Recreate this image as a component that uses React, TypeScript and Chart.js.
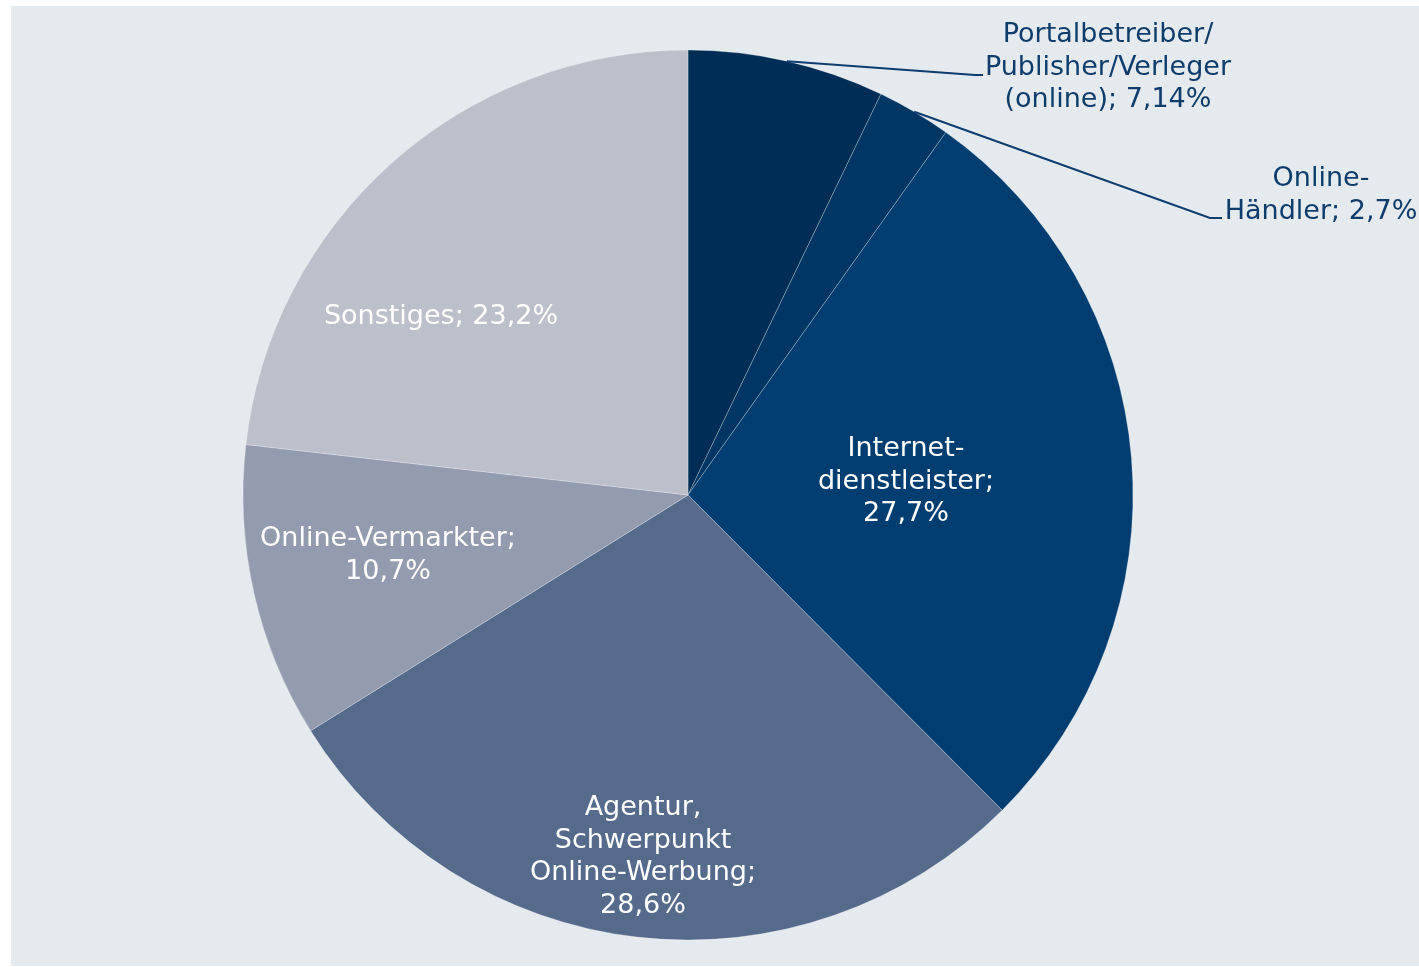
import React, { useEffect, useRef } from "react";
import { Chart, registerables } from "chart.js";

Chart.register(...registerables);

const categories = [
  "Portalbetreiber/Publisher/Verleger (online)",
  "Online-Händler",
  "Internet-dienstleister",
  "Agentur, Schwerpunkt Online-Werbung",
  "Online-Vermarkter",
  "Sonstiges",
];
const values = [7.14, 2.7, 27.7, 28.6, 10.7, 23.2];
const colors = ["#002d56", "#003663", "#003d71", "#566a8c", "#939cae", "#bcc0cb"];
// label line templates ({v} = formatted value)
const labelLines = [
  ["Portalbetreiber/", "Publisher/Verleger", "(online); {v}"],
  ["Online-", "Händler; {v}"],
  ["Internet-", "dienstleister;", "{v}"],
  ["Agentur,", "Schwerpunkt", "Online-Werbung;", "{v}"],
  ["Online-Vermarkter;", "{v}"],
  ["Sonstiges; {v}"],
];

const fmt = (v: number) => String(v).replace(".", ",") + "%";

// label anchor offsets relative to pie centre (first line), outside flag, leader elbow
const labelLayout = [
  { dx: 420, dy: -460, outside: true, elbow: [287, -420], end: [295, -420] },
  { dx: 633, dy: -316, outside: true, elbow: [522, -277], end: [534, -277] },
  { dx: 218, dy: -46, outside: false },
  { dx: -45, dy: 313, outside: false },
  { dx: -300, dy: 44, outside: false },
  { dx: -247, dy: -178, outside: false },
];

const LINE_H = 32.5;

const labelPlugin = {
  id: "pieLabels",
  afterDatasetsDraw(chart: any) {
    const ctx = chart.ctx;
    const meta = chart.getDatasetMeta(0);
    ctx.save();
    ctx.font = "27px 'DejaVu Sans', Verdana, sans-serif";
    ctx.textAlign = "center";
    ctx.textBaseline = "middle";
    meta.data.forEach((arc: any, i: number) => {
      const { x, y, startAngle, endAngle, outerRadius } = arc.getProps(
        ["x", "y", "startAngle", "endAngle", "outerRadius"],
        true
      );
      const L = labelLayout[i];
      const lines = labelLines[i].map((s) => s.replace("{v}", fmt(values[i])));
      if (L.outside) {
        const mid = (startAngle + endAngle) / 2;
        const sx = x + Math.cos(mid) * outerRadius;
        const sy = y + Math.sin(mid) * outerRadius;
        ctx.strokeStyle = "#0d3d6e";
        ctx.lineWidth = 2;
        ctx.beginPath();
        ctx.moveTo(sx, sy);
        ctx.lineTo(x + L.elbow![0], y + L.elbow![1]);
        ctx.lineTo(x + L.end![0], y + L.end![1]);
        ctx.stroke();
        ctx.fillStyle = "#0f3d6b";
      } else {
        ctx.fillStyle = "#ffffff";
      }
      lines.forEach((ln, k) => {
        ctx.fillText(ln, x + L.dx, y + L.dy + k * LINE_H);
      });
    });
    ctx.restore();
  },
};

export default function App() {
  const ref = useRef<HTMLCanvasElement>(null);
  useEffect(() => {
    if (!ref.current) return;
    const chart = new Chart(ref.current, {
      type: "pie",
      data: {
        labels: categories,
        datasets: [
          {
            data: values,
            backgroundColor: colors,
            borderColor: "rgba(255,255,255,0.25)",
            borderWidth: 1,
          },
        ],
      },
      options: {
        animation: false,
        responsive: false,
        maintainAspectRatio: false,
        radius: 445,
        layout: { padding: { left: 0, right: 54, top: 18, bottom: 0 } },
        plugins: {
          legend: { display: false },
          tooltip: { enabled: false },
        },
      } as any,
      plugins: [labelPlugin],
    });
    return () => chart.destroy();
  }, []);
  return (
    <div
      style={{
        position: "absolute",
        left: 11,
        top: 6,
        width: 1408,
        height: 960,
        background: "#e5eaef",
      }}
    >
      <canvas ref={ref} width={1408} height={960} style={{ display: "block" }} />
    </div>
  );
}
